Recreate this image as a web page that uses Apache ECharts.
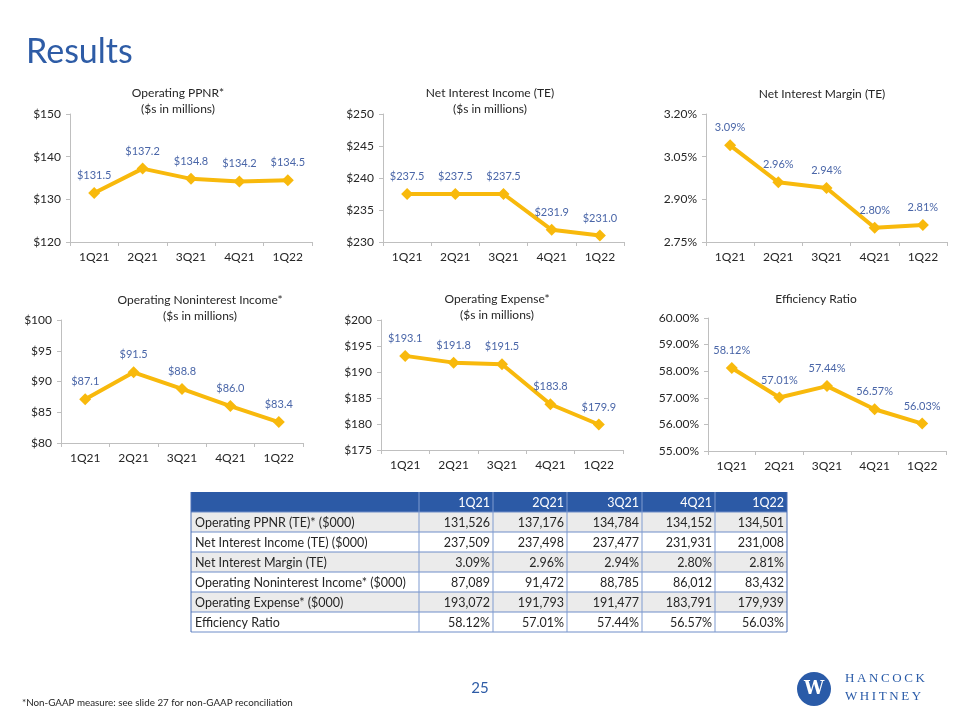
<!DOCTYPE html>
<html><head><meta charset="utf-8">
<script src="https://cdn.jsdelivr.net/npm/echarts@6/dist/echarts.min.js"></script>
<style>html,body{margin:0;padding:0;background:#fff}#c{width:960px;height:720px}</style>
</head><body><div id="c"></div>
<script>
// ---- data ----
const quarters = ['1Q21', '2Q21', '3Q21', '4Q21', '1Q22'];
const ppnr = [131.5, 137.2, 134.8, 134.2, 134.5];
const nii = [237.5, 237.5, 237.5, 231.9, 231.0];
const nim = [3.09, 2.96, 2.94, 2.80, 2.81];
const nonint = [87.1, 91.5, 88.8, 86.0, 83.4];
const opex = [193.1, 191.8, 191.5, 183.8, 179.9];
const eff = [58.12, 57.01, 57.44, 56.57, 56.03];

const tableLabels = ['Operating PPNR (TE)* ($000)', 'Net Interest Income (TE) ($000)', 'Net Interest Margin (TE)',
  'Operating Noninterest Income* ($000)', 'Operating Expense* ($000)', 'Efficiency Ratio'];
const tblPpnr = [131526, 137176, 134784, 134152, 134501];
const tblNii = [237509, 237498, 237477, 231931, 231008];
const tblNim = [3.09, 2.96, 2.94, 2.80, 2.81];
const tblNonint = [87089, 91472, 88785, 86012, 83432];
const tblOpex = [193072, 191793, 191477, 183791, 179939];
const tblEff = [58.12, 57.01, 57.44, 56.57, 56.03];

// ---- styling / layout ----
const FONT = 'Lato, "Open Sans", sans-serif';
const GOLD = '#F8B90C';
const BLUE = '#2E5CA6';
const LBL = '#4A66A8';
const TXT = '#262626';
const AX = '#BFBFBF';

const money1 = v => '$' + v.toFixed(1);
const money0 = v => '$' + Math.round(v);
const pct2 = v => v.toFixed(2) + '%';

const panels = [
  {title: ['Operating PPNR*', '($s in millions)'], tx: 178, ty: 93, data: ppnr, left: 70, top: 114, w: 242, h: 128, min: 120, max: 150, interval: 10, ax: money0, lb: money1},
  {title: ['Net Interest Income (TE)', '($s in millions)'], tx: 490, ty: 93, data: nii, left: 383, top: 114, w: 241, h: 128, min: 230, max: 250, interval: 5, ax: money0, lb: money1},
  {title: ['Net Interest Margin (TE)'], tx: 822, ty: 94, data: nim, left: 706, top: 114, w: 241, h: 128, min: 2.75, max: 3.20, interval: 0.15, ax: pct2, lb: pct2},
  {title: ['Operating Noninterest Income*', '($s in millions)'], tx: 200, ty: 300, data: nonint, left: 61, top: 320, w: 242, h: 123, min: 80, max: 100, interval: 5, ax: money0, lb: money1},
  {title: ['Operating Expense*', '($s in millions)'], tx: 497, ty: 299, data: opex, left: 381, top: 320, w: 242, h: 130, min: 175, max: 200, interval: 5, ax: money0, lb: money1},
  {title: ['Efficiency Ratio'], tx: 816, ty: 299, data: eff, left: 708, top: 318, w: 238, h: 133, min: 55, max: 60, interval: 1, ax: pct2, lb: pct2}
];

const grid = [], xAxis = [], yAxis = [], series = [], graphic = [];

function txt(text, x, y, opt) {
  opt = opt || {};
  graphic.push({
    type: 'text', x: x, y: y, silent: true,
    style: {
      text: text,
      fill: opt.fill || TXT,
      font: (opt.weight || 'normal') + ' ' + (opt.size || 12) + 'px ' + (opt.family || FONT),
      align: opt.align || 'left', textAlign: opt.align || 'left',
      verticalAlign: 'middle', textVerticalAlign: 'middle'
    }
  });
}

panels.forEach((p, i) => {
  grid.push({left: p.left, top: p.top, width: p.w, height: p.h, containLabel: false});
  xAxis.push({
    type: 'category', gridIndex: i, data: quarters, boundaryGap: true,
    axisLine: {show: true, lineStyle: {color: AX, width: 1}},
    axisTick: {show: true, length: 4, lineStyle: {color: AX}},
    axisLabel: {color: TXT, fontSize: 12, fontFamily: FONT, margin: 9}
  });
  yAxis.push({
    type: 'value', gridIndex: i, min: p.min, max: p.max, interval: p.interval,
    axisLine: {show: true, lineStyle: {color: AX, width: 1}},
    axisTick: {show: true, length: 4, lineStyle: {color: AX}},
    splitLine: {show: false},
    axisLabel: {color: TXT, fontSize: 12, fontFamily: FONT, margin: 9, formatter: p.ax}
  });
  series.push({
    type: 'line', xAxisIndex: i, yAxisIndex: i, data: p.data,
    symbol: 'diamond', symbolSize: 12,
    lineStyle: {color: GOLD, width: 4},
    itemStyle: {color: GOLD},
    label: {show: true, position: 'top', distance: 6, color: LBL, fontSize: 11, fontFamily: FONT,
      formatter: params => p.lb(params.value)},
    animation: false
  });
  p.title.forEach((t, k) => txt(t, p.tx, p.ty + k * 16, {align: 'center', size: 12}));
});

// main title, footer
txt('Results', 26, 52, {fill: BLUE, size: 34});
txt('25', 480, 688, {fill: BLUE, size: 15, align: 'center'});
txt('*Non-GAAP measure: see slide 27 for non-GAAP reconciliation', 22, 703, {size: 9.8});

// logo
const spaced = s => s.split('').join('\u2009');
graphic.push({type: 'circle', shape: {cx: 814, cy: 689, r: 17}, style: {fill: '#2A5BA8'}, silent: true});
txt('W', 814, 689, {fill: '#fff', size: 18, weight: 'bold', align: 'center', family: '"DejaVu Serif", serif'});
txt(spaced('HANCOCK'), 845, 679, {fill: '#2A5BA8', size: 13, family: '"Liberation Serif", serif'});
txt(spaced('WHITNEY'), 845, 697, {fill: '#2A5BA8', size: 13, family: '"Liberation Serif", serif'});

// ---- table ----
const cols = [191, 419, 493, 567, 642, 715, 787];
const tTop = 492, rowH = 20;
const TF = 12.5;
const fmtInt = v => v.toLocaleString('en-US');
const tableData = [
  tblPpnr.map(fmtInt), tblNii.map(fmtInt), tblNim.map(pct2),
  tblNonint.map(fmtInt), tblOpex.map(fmtInt), tblEff.map(pct2)
];
const tW = cols[cols.length - 1] - cols[0];
graphic.push({type: 'rect', shape: {x: cols[0], y: tTop, width: tW, height: rowH}, style: {fill: '#2C5AA6'}, silent: true});
tableLabels.forEach((lab, r) => {
  const y = tTop + rowH * (r + 1);
  if (r % 2 === 0) graphic.push({type: 'rect', shape: {x: cols[0], y: y, width: tW, height: rowH}, style: {fill: '#EBEBEB'}, silent: true});
});
for (let r = 1; r <= tableLabels.length + 1; r++) {
  const y = tTop + rowH * r;
  graphic.push({type: 'line', shape: {x1: cols[0], y1: y, x2: cols[cols.length - 1], y2: y}, style: {stroke: '#6F8DC8', lineWidth: 1}, silent: true});
}
cols.forEach((x, c) => {
  graphic.push({type: 'line', shape: {x1: x, y1: tTop, x2: x, y2: tTop + rowH * (tableLabels.length + 1)},
    style: {stroke: c === 0 || c === cols.length - 1 ? '#4A6FB5' : '#7F9BD0', lineWidth: 1}, silent: true});
});
quarters.forEach((q, c) => txt(q, cols[c + 2] - 3, tTop + rowH / 2 + 1, {fill: '#fff', align: 'right', size: TF}));
tableLabels.forEach((lab, r) => {
  const cy = tTop + rowH * (r + 1) + rowH / 2 + 1;
  txt(lab, cols[0] + 4, cy, {size: TF});
  tableData[r].forEach((v, c) => txt(v, cols[c + 2] - 3, cy, {align: 'right', size: TF}));
});

const chart = echarts.init(document.getElementById('c'), null, {renderer: 'canvas'});
chart.setOption({
  backgroundColor: '#fff',
  animation: false,
  grid: grid, xAxis: xAxis, yAxis: yAxis, series: series, graphic: graphic
});
</script></body></html>
